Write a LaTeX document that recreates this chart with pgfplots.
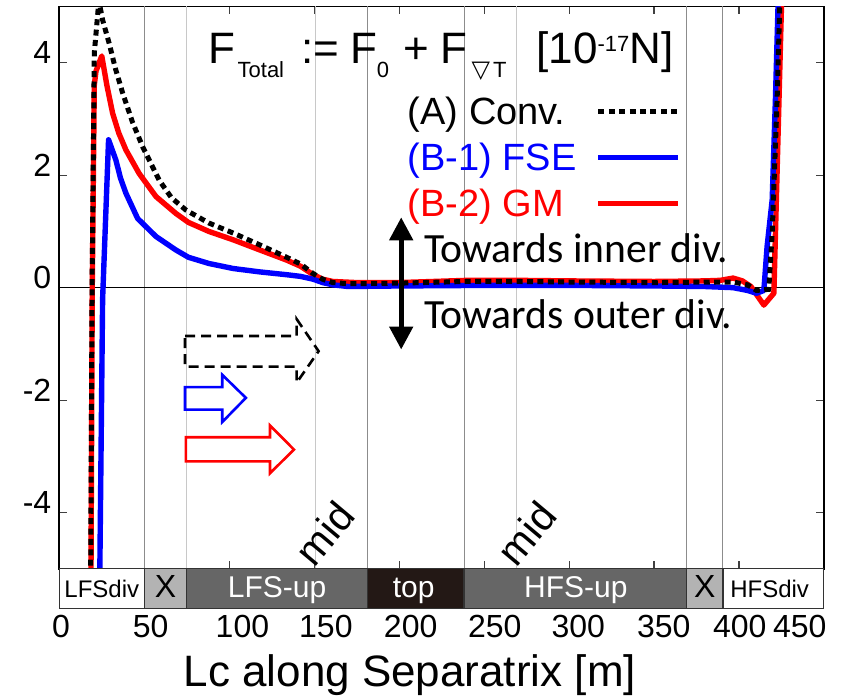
\documentclass[border=0pt]{standalone}
\usepackage{pgfplots}
\pgfplotsset{compat=1.18}
\usepackage{pgfplotstable}
\usepackage{fontspec}
\setmainfont{Liberation Sans}
\newfontfamily\carlito{Carlito}
\newfontfamily\dejavu{DejaVu Sans}
\usetikzlibrary{arrows.meta}
\definecolor{bandlight}{HTML}{B3B3B3}
\definecolor{banddark}{HTML}{666666}
\definecolor{bandtop}{HTML}{231815}
\definecolor{gridd}{HTML}{8C8C8C}
\definecolor{gridl}{HTML}{C8C8C8}
\newcommand\fs[1]{\fontsize{#1}{#1}\selectfont}
\newcommand\sh[2]{\makebox[0pt]{\hspace*{#1}\hspace*{#1}#2}}

\pgfplotstableread{
x y
18.4 -5.5
19.3 0
20.6 4.17
23.3 5.1
25.5 4.76
29.4 4.34
33 3.9
37.3 3.46
43 2.95
49 2.51
58.8 1.91
66 1.6
74.5 1.38
88 1.15
102.4 0.97
118 0.76
133.8 0.54
142 0.42
149.4 0.25
155 0.15
161 0.09
170 0.07
200 0.08
240 0.11
270 0.11
300 0.1
350 0.09
385 0.1
396.5 0.1
405 0.05
410.3 -0.05
417.5 -0.03
419.5 0.97
422.4 3.34
424.4 5.5
}\conv

\pgfplotstableread{
x y
23.7 -5.5
25.5 -0.2
29 2.63
33.3 2.27
36 1.95
39.2 1.68
46.1 1.23
56.9 0.91
68.6 0.67
76 0.54
88 0.43
102.4 0.34
118 0.28
133.8 0.23
142 0.2
149.4 0.15
155 0.09
161 0.05
170 0.02
200 0.03
250 0.04
300 0.04
350 0.03
380 0.02
396.5 0.0
405 -0.05
410.3 -0.1
414.6 -0.05
416.5 0.73
419.5 1.56
421.4 3.34
423.4 5.5
}\fse

\pgfplotstableread{
x y
18.6 -5.5
19.4 0
20.6 3.6
21.6 3.85
25 4.12
28 3.6
31.4 3.10
35 2.75
39.2 2.45
47 2.03
56.9 1.62
68.6 1.32
76 1.16
88 1.0
102.4 0.85
118 0.67
133.8 0.49
142 0.38
149.4 0.23
155 0.15
161 0.11
175 0.09
200 0.09
240 0.13
270 0.13
300 0.12
350 0.11
380 0.12
389 0.13
396.5 0.17
402 0.12
407 0.02
414.6 -0.31
420.5 -0.1
425.4 5.5
}\gm

\begin{document}
\begin{tikzpicture}
\useasboundingbox (-29.65pt,-63.5pt) rectangle (395pt,284.5pt);
\begin{axis}[
  scale only axis, width=382.5pt, height=281.25pt,
  xmin=0, xmax=450, ymin=-5, ymax=5,
  clip mode=individual,
  axis line style={line width=0.9pt},
  xtick={0,50,...,450},
  xticklabels={\sh{0.85pt}{0},\sh{3.25pt}{50},\sh{6.6pt}{100},\sh{5.85pt}{150},\sh{5.75pt}{200},\sh{5.35pt}{250},\sh{4.6pt}{300},\sh{4.85pt}{350},\sh{0.35pt}{400},\sh{-12.15pt}{450}},
  ytick={-4,-2,0,2,4},
  yticklabels={-4,-2,0,2,4},
  tick align=inside, major tick length=4pt,
  tick style={line width=0.6pt, black!75},
  xticklabel style={font=\fs{16}, inner sep=0pt, anchor=north, yshift=-23pt},
  yticklabel style={font=\fs{16}, inner sep=0pt, anchor=east, xshift=-3.8pt, yshift=5pt},
  xlabel={Lc along Separatrix [m]},
  xlabel style={font=\fs{22}, at={(axis description cs:0.4584,0)}, anchor=base, yshift=-58.7pt, inner sep=0pt},
  legend plot pos=right,
  legend cell align=left,
  legend style={draw=none, fill=none, font=\fs{19}, at={(axis description cs:0.4558,0.839)}, anchor=north west, inner sep=0pt, outer sep=0pt, row sep=7.8pt, column sep=9.5pt, nodes={inner sep=0pt}},
  legend image code/.code={\draw[#1] (0pt,0.5pt) -- (40pt,0.5pt);},
]
% grid lines
\draw[gridd, line width=0.5pt] (axis cs:50,-5) -- (axis cs:50,5);
\draw[gridl, line width=0.5pt] (axis cs:75,-5) -- (axis cs:75,5);
\draw[gridl, line width=0.5pt] (axis cs:150.5,-5) -- (axis cs:150.5,5);
\draw[gridd, line width=0.5pt] (axis cs:181.3,-5) -- (axis cs:181.3,5);
\draw[gridd, line width=0.5pt] (axis cs:238.2,-5) -- (axis cs:238.2,5);
\draw[gridl, line width=0.5pt] (axis cs:269,-5) -- (axis cs:269,5);
\draw[gridd, line width=0.5pt] (axis cs:369.1,-5) -- (axis cs:369.1,5);
\draw[gridd, line width=0.5pt] (axis cs:390.5,-5) -- (axis cs:390.5,5);
\draw[black, line width=0.6pt] (axis cs:0,0) -- (axis cs:450,0);

% legend entries
\addlegendimage{black, line width=2.5pt, dash pattern=on 3pt off 2.2pt}
\addlegendentry{(A) Conv.}
\addlegendimage{blue, line width=2.7pt}
\addlegendentry{\textcolor{blue}{(B-1) FSE}}
\addlegendimage{red, line width=2.7pt}
\addlegendentry{\textcolor{red}{(B-2) GM}}

\addplot[forget plot, red, line width=2.7pt, line join=round] table {\gm};
\addplot[forget plot, blue, line width=2.7pt, line join=round] table {\fse};
\addplot[forget plot, black, line width=2.5pt, dash pattern=on 3pt off 2.2pt] table {\conv};

% bottom band
\draw[black!80, line width=0.6pt, fill=white] (axis cs:0,-5) rectangle ([yshift=-20pt]axis cs:50,-5);
\draw[black!80, line width=0.6pt, fill=bandlight] (axis cs:50,-5) rectangle ([yshift=-20pt]axis cs:75,-5);
\draw[black!80, line width=0.6pt, fill=banddark] (axis cs:75,-5) rectangle ([yshift=-20pt]axis cs:181.3,-5);
\draw[black!80, line width=0.6pt, fill=bandtop] (axis cs:181.3,-5) rectangle ([yshift=-20pt]axis cs:238.2,-5);
\draw[black!80, line width=0.6pt, fill=banddark] (axis cs:238.2,-5) rectangle ([yshift=-20pt]axis cs:369.1,-5);
\draw[black!80, line width=0.6pt, fill=bandlight] (axis cs:369.1,-5) rectangle ([yshift=-20pt]axis cs:390.5,-5);
\draw[black!80, line width=0.6pt, fill=white] (axis cs:390.5,-5) rectangle ([yshift=-20pt]axis cs:449.5,-5);
\node[anchor=base, font=\fs{12}, inner sep=0pt] at ([yshift=-14.5pt]axis cs:25,-5) {LFSdiv};
\node[anchor=base, font=\fs{16}, inner sep=0pt] at ([yshift=-14.5pt]axis cs:62.5,-5) {X};
\node[anchor=base, font=\fs{15}, inner sep=0pt, white] at ([yshift=-14.5pt]axis cs:128.2,-5) {LFS-up};
\node[anchor=base, font=\fs{15}, inner sep=0pt, white] at ([yshift=-14.5pt]axis cs:208.5,-5) {top};
\node[anchor=base, font=\fs{15}, inner sep=0pt, white] at ([yshift=-14.5pt]axis cs:304,-5) {HFS-up};
\node[anchor=base, font=\fs{16}, inner sep=0pt] at ([yshift=-14.5pt]axis cs:379.8,-5) {X};
\node[anchor=base, font=\fs{12}, inner sep=0pt] at ([yshift=-14.5pt]axis cs:418,-5) {HFSdiv};

% title
\node[anchor=base west, font=\fs{22}, inner sep=0pt] at (axis cs:87.5,3.99) {F\hspace{1.2pt}\raisebox{-7pt}{\fs{11}Total}\hspace{8.5pt}:=\hspace{5.5pt}F\raisebox{-7pt}{\fs{11}0}\hspace{7pt}+\hspace{6pt}F\hspace{2pt}\raisebox{-7pt}{\fs{11}{\dejavu\fs{12}▽}\hspace{1.5pt}T}\hspace{15pt}[10\raisebox{5.8pt}{\fs{11}-17}N]};

% direction annotation
\draw[line width=2.5pt, {Triangle[width=11.5pt,length=11.5pt]}-{Triangle[width=11.5pt,length=11.5pt]}] (axis cs:201.2,-1.1) -- (axis cs:201.2,1.25);
\node[anchor=base west, font=\carlito\fs{20.8}, inner sep=0pt] at (axis cs:214.5,0.44) {Towards inner div.};
\node[anchor=base west, font=\carlito\fs{20.8}, inner sep=0pt] at (axis cs:214.5,-0.72) {Towards outer div.};

% mid labels
\node[rotate=50, font=\fs{20.5}, inner sep=1pt] at (axis cs:156.3,-4.37) {mid};
\node[rotate=50, font=\fs{20.5}, inner sep=1pt] at (axis cs:275,-4.37) {mid};

% block arrows
\draw[black, line width=1.3pt, dash pattern=on 5pt off 3pt] (axis cs:74,-0.859) -- (axis cs:139.7,-0.859) -- (axis cs:139.7,-0.56) -- (axis cs:152.6,-1.13) -- (axis cs:139.7,-1.69) -- (axis cs:139.7,-1.404) -- (axis cs:74,-1.404) -- cycle;
\draw[blue, line width=1.3pt] (axis cs:74,-1.77) -- (axis cs:95.9,-1.77) -- (axis cs:95.9,-1.55) -- (axis cs:109.8,-1.96) -- (axis cs:95.9,-2.39) -- (axis cs:95.9,-2.17) -- (axis cs:74,-2.17) -- cycle;
\draw[red, line width=1.3pt] (axis cs:74.5,-2.66) -- (axis cs:124,-2.66) -- (axis cs:124,-2.45) -- (axis cs:138.1,-2.88) -- (axis cs:124,-3.30) -- (axis cs:124,-3.09) -- (axis cs:74.5,-3.09) -- cycle;
\end{axis}
\end{tikzpicture}
\end{document}
